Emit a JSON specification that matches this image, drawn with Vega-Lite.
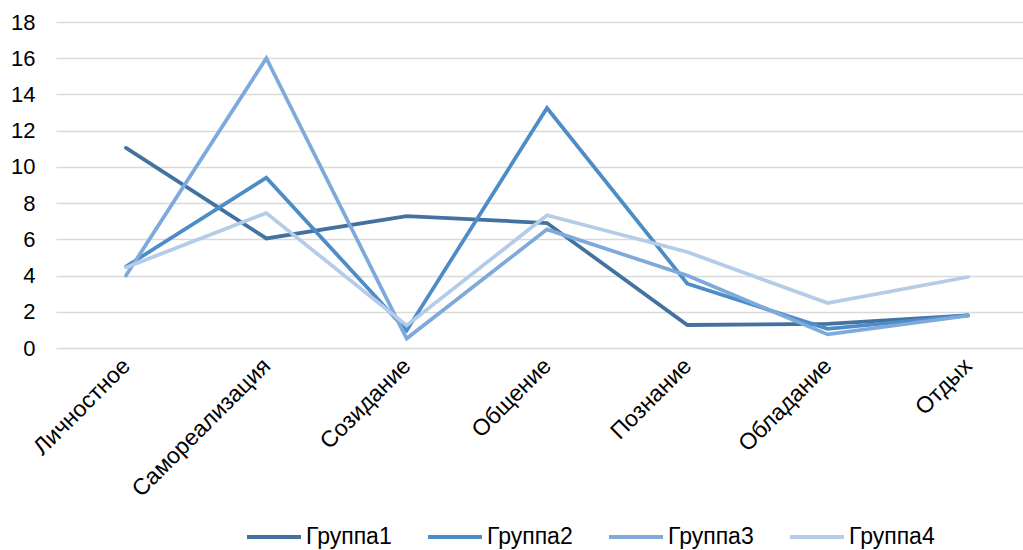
{
  "$schema": "https://vega.github.io/schema/vega-lite/v6.json",
  "autosize": "none",
  "width": 967,
  "height": 326,
  "padding": {"left": 56, "top": 22, "right": 0, "bottom": 202},
  "background": "white",
  "config": {
    "font": "Liberation Sans",
    "view": {"stroke": null}
  },
  "data": {
    "values": [
      {"cat": "Личностное", "g": "Группа1", "v": 11.05},
      {"cat": "Самореализация", "g": "Группа1", "v": 6.05},
      {"cat": "Созидание", "g": "Группа1", "v": 7.28},
      {"cat": "Общение", "g": "Группа1", "v": 6.9},
      {"cat": "Познание", "g": "Группа1", "v": 1.27},
      {"cat": "Обладание", "g": "Группа1", "v": 1.33},
      {"cat": "Отдых", "g": "Группа1", "v": 1.8},
      {"cat": "Личностное", "g": "Группа2", "v": 4.5},
      {"cat": "Самореализация", "g": "Группа2", "v": 9.4},
      {"cat": "Созидание", "g": "Группа2", "v": 0.97},
      {"cat": "Общение", "g": "Группа2", "v": 13.25},
      {"cat": "Познание", "g": "Группа2", "v": 3.55},
      {"cat": "Обладание", "g": "Группа2", "v": 1.06},
      {"cat": "Отдых", "g": "Группа2", "v": 1.8},
      {"cat": "Личностное", "g": "Группа3", "v": 4.0},
      {"cat": "Самореализация", "g": "Группа3", "v": 16.0},
      {"cat": "Созидание", "g": "Группа3", "v": 0.52},
      {"cat": "Общение", "g": "Группа3", "v": 6.55},
      {"cat": "Познание", "g": "Группа3", "v": 4.0},
      {"cat": "Обладание", "g": "Группа3", "v": 0.75},
      {"cat": "Отдых", "g": "Группа3", "v": 1.78},
      {"cat": "Личностное", "g": "Группа4", "v": 4.45},
      {"cat": "Самореализация", "g": "Группа4", "v": 7.45},
      {"cat": "Созидание", "g": "Группа4", "v": 1.25},
      {"cat": "Общение", "g": "Группа4", "v": 7.33},
      {"cat": "Познание", "g": "Группа4", "v": 5.3},
      {"cat": "Обладание", "g": "Группа4", "v": 2.48},
      {"cat": "Отдых", "g": "Группа4", "v": 3.92}
    ]
  },
  "mark": {"type": "line", "strokeWidth": 3.75, "strokeCap": "round", "strokeJoin": "miter"},
  "encoding": {
    "x": {
      "field": "cat",
      "type": "nominal",
      "sort": ["Личностное", "Самореализация", "Созидание", "Общение", "Познание", "Обладание", "Отдых"],
      "scale": {"type": "point", "padding": 0.4454, "align": 0.56},
      "axis": {
        "title": null,
        "labelAngle": -45,
        "labelAlign": "right",
        "labelBaseline": "middle",
        "labelFontSize": 23,
        "labelColor": "#000000",
        "labelPadding": 14,
        "labelLimit": 400,
        "labelOverlap": false,
        "ticks": false,
        "domain": false,
        "grid": false
      }
    },
    "y": {
      "field": "v",
      "type": "quantitative",
      "scale": {"domain": [0, 18], "nice": false},
      "axis": {
        "title": null,
        "values": [0, 2, 4, 6, 8, 10, 12, 14, 16, 18],
        "labelFontSize": 22,
        "labelColor": "#000000",
        "labelPadding": 21,
        "ticks": false,
        "domain": false,
        "grid": true,
        "gridColor": "#d9d9d9",
        "gridWidth": 1.5
      }
    },
    "color": {
      "field": "g",
      "type": "nominal",
      "scale": {
        "domain": ["Группа1", "Группа2", "Группа3", "Группа4"],
        "range": ["#4472a0", "#4e8cc8", "#7eaadb", "#b5cce8"]
      },
      "legend": {
        "title": null,
        "orient": "none",
        "legendX": 189,
        "legendY": 503,
        "direction": "horizontal",
        "symbolType": "stroke",
        "symbolSize": 2916,
        "symbolStrokeWidth": 4,
        "clipHeight": 24,
        "labelFontSize": 23,
        "labelColor": "#000000",
        "labelOffset": 3,
        "columnPadding": 34
      }
    }
  }
}
